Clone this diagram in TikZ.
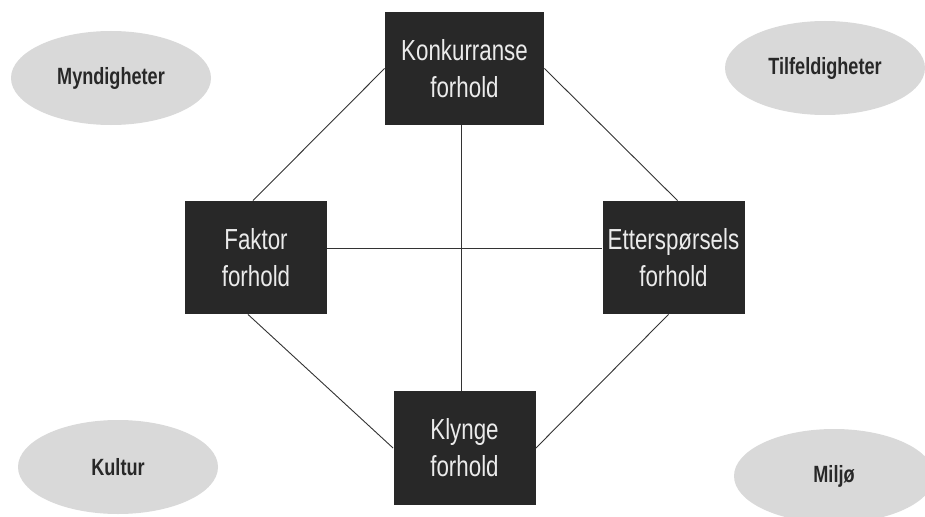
\documentclass[tikz,border=0pt]{standalone}
\usepackage{fontspec}
\setmainfont{Liberation Sans}
\newfontfamily\narrowfont[FakeStretch=0.77]{Liberation Sans}
\usetikzlibrary{shapes.geometric}
\definecolor{boxgray}{HTML}{282828}
\definecolor{ellgray}{HTML}{D9D9D9}
\definecolor{linegray}{HTML}{333333}

\begin{document}
\begin{tikzpicture}[x=1pt,y=-1pt,line width=0.9pt,draw=linegray]
  \tikzstyle{forhold}=[rectangle,fill=boxgray,text=white!92!black,align=center,
                       minimum width=142pt,minimum height=113pt,
                       font=\narrowfont\fontsize{29}{37}\selectfont]
  \tikzstyle{omgivelse}=[ellipse,fill=ellgray,text=boxgray,inner sep=0pt,
                         minimum width=200pt,minimum height=94pt,
                         font=\narrowfont\bfseries\fontsize{23.5}{28}\selectfont]
  \useasboundingbox (0,0) rectangle (925,516);

  \node[forhold,minimum width=159pt] (K) at (464.5,68.5) {Konkurranse\\forhold};
  \node[forhold]                     (F) at (256,257.5)  {Faktor\\forhold};
  \node[forhold]                     (E) at (673.5,257.5) {Etterspørsels\\forhold};
  \node[forhold,minimum height=114pt] (L) at (464.5,448)  {Klynge\\forhold};

  \node[omgivelse] (M) at (111,78)  {Myndigheter};
  \node[omgivelse] (T) at (825,68)  {Tilfeldigheter};
  \node[omgivelse] (C) at (118,467) {Kultur};
  \node[omgivelse] (J) at (834,476) {Miljø};

  \draw (K.west) -- ([xshift=-3pt]F.north);
  \draw (K.east) -- ([xshift=4pt]E.north);
  \draw ([xshift=-8pt]F.south) -- (L.west);
  \draw (L.east) -- ([xshift=-5pt]E.south);
  \draw ([xshift=-3.5pt]K.south) -- ([xshift=-3.5pt]L.north);
  \draw ([yshift=9.5pt]F.east) -- ([yshift=9.5pt]E.west);
\end{tikzpicture}
\end{document}
